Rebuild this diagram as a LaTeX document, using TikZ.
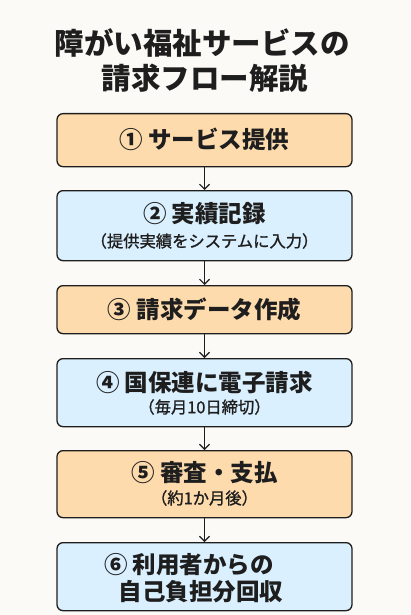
\documentclass[tikz,border=0pt]{standalone}
\usepackage{fontspec}
\setmainfont{Noto Sans CJK JP}
\newfontfamily\subfont{Noto Sans CJK JP}[FakeBold=1.2]
\usetikzlibrary{arrows.meta}
\definecolor{bg}{HTML}{FCFAF6}
\definecolor{orangefill}{HTML}{FDDBAC}
\definecolor{bluefill}{HTML}{DAF0FE}
\definecolor{edge}{HTML}{1E1E1E}
\tikzset{
  stepbox/.style={draw=edge, line width=1.3pt, rounded corners=6pt, minimum width=295pt, anchor=north, inner sep=0pt},
  orangebox/.style={stepbox, fill=orangefill},
  bluebox/.style={stepbox, fill=bluefill},
  maintxt/.style={font=\fontsize{23.5}{27}\selectfont\bfseries, text=edge},
  subtxt/.style={font=\fontsize{16.3}{19}\subfont\selectfont, text=edge},
  flowarrow/.style={draw=edge, line width=1.1pt, -{Straight Barb[length=5pt,width=10pt,line width=1.1pt]}},
  titletxt/.style={font=\fontsize{29.5}{35}\selectfont\bfseries, text=edge, align=center}
}
\begin{document}
\begin{tikzpicture}[x=1pt,y=-1pt]
\fill[bg] (0,0) rectangle (410,615);
\useasboundingbox (0,0) rectangle (410,615);
\node[titletxt] (title1) at (202,43) {障がい福祉サービスの};
\node[titletxt] (title2) at (205,78) {請求フロー解説};

\node[orangebox, minimum height=53pt] (b1) at (204.5,113) {};
\node[maintxt] (t1) at (204.5,139) {① サービス提供};

\node[bluebox, minimum height=70pt] (b2) at (204.5,190) {};
\node[maintxt] (t2) at (204.5,214) {② 実績記録};
\node[subtxt] (s2) at (204.5,241) {（提供実績をシステムに入力）};

\node[orangebox, minimum height=48pt] (b3) at (204.5,285) {};
\node[maintxt] (t3) at (204.5,309) {③ 請求データ作成};

\node[bluebox, minimum height=68pt] (b4) at (204.5,358) {};
\node[maintxt] (t4) at (204.5,382) {④ 国保連に電子請求};
\node[subtxt] (s4) at (204.5,407) {（毎月10日締切）};

\node[orangebox, minimum height=67pt] (b5) at (204.5,450) {};
\node[maintxt] (t5) at (204.5,473) {⑤ 審査・支払};
\node[subtxt] (s5) at (204.5,498) {（約1か月後）};

\node[bluebox, minimum height=68pt] (b6) at (204.5,542) {};
\node[maintxt] (t6a) at (189,565) {⑥ 利用者からの};
\node[maintxt] (t6b) at (201,592) {自己負担分回収};

\draw[flowarrow] (b1.south) -- (b2.north);
\draw[flowarrow] (b2.south) -- (b3.north);
\draw[flowarrow] (b3.south) -- (b4.north);
\draw[flowarrow] (b4.south) -- (b5.north);
\draw[flowarrow] (b5.south) -- (b6.north);
\end{tikzpicture}
\end{document}
